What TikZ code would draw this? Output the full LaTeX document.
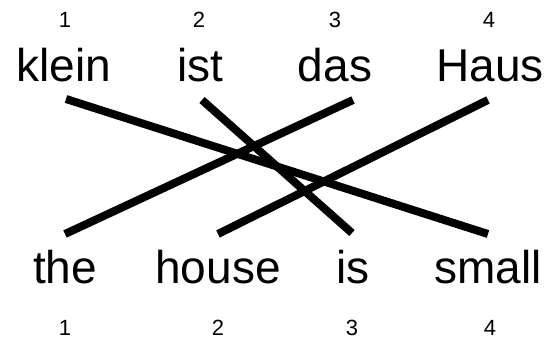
\documentclass[tikz,border=0pt]{standalone}
\usepackage{fontspec}
\setmainfont{Liberation Sans}
\begin{document}
\begin{tikzpicture}[x=1pt,y=1pt,
  word/.style={font=\fontsize{46}{46}\selectfont, inner sep=0pt, anchor=base},
  num/.style={font=\fontsize{22}{22}\selectfont, inner sep=0pt, anchor=base},
  link/.style={line width=8pt, line cap=butt}]
\useasboundingbox (0,0) rectangle (550,342);
% top numbers
\node[num] (tn1) at (65,314) {1};
\node[num] (tn2) at (199,314) {2};
\node[num] (tn3) at (335,314) {3};
\node[num] (tn4) at (489,314) {4};
% top words
\node[word] (klein) at (64,260) {klein};
\node[word] (ist) at (200,260) {ist};
\node[word] (das) at (335,260) {das};
\node[word] (Haus) at (490,260) {Haus};
% bottom words
\node[word] (the) at (65,58) {the};
\node[word] (house) at (218,58) {house};
\node[word] (is) at (353,58) {is};
\node[word] (small) at (488,58) {small};
% bottom numbers
\node[num] (bn1) at (65,6) {1};
\node[num] (bn2) at (218,6) {2};
\node[num] (bn3) at (352,6) {3};
\node[num] (bn4) at (490,6) {4};
% link end points
\coordinate (kleinE) at (66,243);
\coordinate (istE) at (202,242);
\coordinate (dasE) at (353,242);
\coordinate (HausE) at (488,242);
\coordinate (theE) at (65,108);
\coordinate (houseE) at (218,108);
\coordinate (isE) at (352,109);
\coordinate (smallE) at (488,108);
% links
\draw[link] (kleinE) -- (smallE);
\draw[link] (istE) -- (isE);
\draw[link] (dasE) -- (theE);
\draw[link] (HausE) -- (houseE);
\end{tikzpicture}
\end{document}
